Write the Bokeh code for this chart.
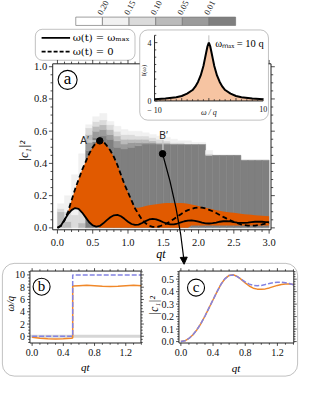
import numpy as np
from bokeh.plotting import figure
from bokeh.models import Range1d, BoxAnnotation, Arrow, NormalHead
from bokeh.core.properties import value
from bokeh.embed import file_html
from bokeh.resources import INLINE

# ====================== DATA ======================
# panel (a): |c1|^2 versus qt
t_grid = [round(0.05 * i, 2) for i in range(61)]
c1_wmax = [0.000, 0.015, 0.050, 0.085, 0.110, 0.123, 0.118, 0.095, 0.065, 0.035,
           0.015, 0.008, 0.012, 0.028, 0.048, 0.066, 0.078, 0.080, 0.072, 0.056,
           0.038, 0.024, 0.018, 0.020, 0.030, 0.042, 0.052, 0.056, 0.053, 0.045,
           0.035, 0.027, 0.022, 0.022, 0.027, 0.034, 0.041, 0.045, 0.046, 0.043,
           0.038, 0.032, 0.028, 0.027, 0.029, 0.033, 0.038, 0.041, 0.042, 0.040,
           0.036, 0.033, 0.031, 0.031, 0.033, 0.036, 0.038, 0.039, 0.038, 0.036,
           0.035]
c1_w0 = [0.000, 0.012, 0.045, 0.100, 0.170, 0.240, 0.300, 0.360, 0.410, 0.460,
         0.500, 0.530, 0.540, 0.535, 0.510, 0.480, 0.440, 0.390, 0.330, 0.270,
         0.220, 0.170, 0.120, 0.085, 0.050, 0.028, 0.013, 0.006, 0.005, 0.010,
         0.018, 0.028, 0.040, 0.055, 0.070, 0.085, 0.100, 0.110, 0.118, 0.124,
         0.126, 0.125, 0.120, 0.112, 0.103, 0.092, 0.080, 0.068, 0.057, 0.047,
         0.037, 0.029, 0.022, 0.017, 0.014, 0.013, 0.014, 0.017, 0.021, 0.026,
         0.031]
orange_top = [0.000, 0.012, 0.045, 0.100, 0.170, 0.240, 0.300, 0.360, 0.410, 0.460,
              0.500, 0.530, 0.540, 0.535, 0.510, 0.480, 0.440, 0.390, 0.330, 0.270,
              0.220, 0.170, 0.125, 0.125, 0.130, 0.135, 0.140, 0.144, 0.147, 0.150,
              0.152, 0.154, 0.155, 0.155, 0.155, 0.154, 0.152, 0.149, 0.145, 0.140,
              0.135, 0.130, 0.125, 0.120, 0.115, 0.110, 0.106, 0.102, 0.099, 0.096,
              0.093, 0.090, 0.088, 0.085, 0.083, 0.081, 0.079, 0.077, 0.075, 0.073,
              0.072]
orange_bottom = [0.000, 0.015, 0.050, 0.085, 0.110, 0.123, 0.118, 0.095, 0.065, 0.035,
                 0.015, 0.008, 0.0, 0.0, 0.0, 0.0, 0.0, 0.0, 0.0, 0.0,
                 0.0, 0.0, 0.0, 0.0, 0.0, 0.0, 0.0, 0.0, 0.0, 0.0,
                 0.0, 0.0, 0.0, 0.0, 0.0, 0.0, 0.0, 0.0, 0.015, 0.015,
                 0.015, 0.015, 0.015, 0.015, 0.015, 0.015, 0.015, 0.015, 0.015, 0.015,
                 0.015, 0.015, 0.015, 0.015, 0.015, 0.015, 0.015, 0.015, 0.015, 0.015,
                 0.015]

# grey histogram: column left edges and the top of each shade level (cumulative)
heat_left = [round(0.1 * i, 1) for i in range(30)]
heat_L5 = [0, 0, 0, 0, 0.48, 0.56, 0.57, 0.55, 0.50, 0.49, 0.50, 0.51, 0.52, 0.52, 0.52,
           0.52, 0.52, 0.52, 0.52, 0.52, 0.52, 0.45, 0.45, 0.45, 0.45, 0.45, 0.42, 0.42, 0.42, 0.42]
heat_L4 = [0, 0, 0, 0, 0.53, 0.60, 0.61, 0.58, 0.54, 0.52, 0.53, 0.53, 0.53, 0.53, 0.52,
           0.52, 0.52, 0.52, 0.52, 0.52, 0.52, 0.45, 0.45, 0.45, 0.45, 0.45, 0.42, 0.42, 0.42, 0.42]
heat_L3 = [0.10, 0.04, 0, 0.03, 0.58, 0.63, 0.64, 0.61, 0.57, 0.55, 0.55, 0.55, 0.55, 0.54, 0.53,
           0.53, 0.52, 0.52, 0.52, 0.52, 0.52, 0.45, 0.45, 0.45, 0.45, 0.45, 0.42, 0.42, 0.42, 0.42]
heat_L2 = [0.12, 0.10, 0.08, 0.30, 0.62, 0.66, 0.67, 0.64, 0.60, 0.58, 0.58, 0.57, 0.57, 0.56, 0.55,
           0.54, 0.53, 0.53, 0.52, 0.52, 0.52, 0.46, 0.45, 0.45, 0.45, 0.45, 0.42, 0.42, 0.42, 0.42]
heat_L1 = [0.15, 0.20, 0.33, 0.46, 0.64, 0.69, 0.71, 0.66, 0.63, 0.61, 0.60, 0.60, 0.59, 0.58, 0.57,
           0.56, 0.55, 0.54, 0.54, 0.53, 0.53, 0.48, 0.45, 0.45, 0.45, 0.45, 0.42, 0.42, 0.42, 0.42]
level_colors = ["#7f7f7f", "#9b9b9b", "#bbbbbb", "#dbdbdb", "#f1f1f1"]

cb_colors = ["#ffffff", "#f1f1f1", "#dbdbdb", "#bbbbbb", "#9b9b9b", "#7f7f7f"]
cb_labels = ["0.20", "0.15", "0.10", "0.05", "0.01"]

points_t = [0.60, 1.49]
points_c = [0.54, 0.46]
points_lab = ["A\u2032", "B\u2032"]

main_xticks = [0.0, 0.5, 1.0, 1.5, 2.0, 2.5, 3.0]
main_xlabels = ["0.0", "0.5", "1.0", "1.5", "2.0", "2.5", "3.0"]
main_yticks = [0.0, 0.2, 0.4, 0.6, 0.8, 1.0]
main_ylabels = ["0.0", "0.2", "0.4", "0.6", "0.8", "1.0"]

# inset: spectral density
omega = [-10, -8, -6, -5, -4, -3, -2.5, -2, -1.5, -1, -0.75, -0.5, -0.25, 0,
         0.25, 0.5, 0.75, 1, 1.5, 2, 2.5, 3, 4, 5, 6, 8, 10]
I_omega = [0.11, 0.16, 0.25, 0.34, 0.50, 0.75, 0.98, 1.30, 1.75, 2.40, 2.85, 3.30, 3.75, 4.00,
           3.75, 3.30, 2.85, 2.40, 1.75, 1.30, 0.98, 0.75, 0.50, 0.34, 0.25, 0.16, 0.11]

# panel (b): omega/q versus qt
b_t_opt = [0, 0.1, 0.2, 0.3, 0.4, 0.5, 0.52, 0.52, 0.6, 0.7, 0.8, 0.9, 1.0, 1.1, 1.2, 1.3, 1.4]
b_w_opt = [-0.15, -0.3, -0.4, -0.42, -0.4, -0.32, -0.28, 8.2, 8.25, 8.3, 8.25, 8.15, 8.1, 8.15, 8.25, 8.3, 8.25]
b_t_bang = [0, 0.52, 0.52, 1.4]
b_w_bang = [0, 0, 10, 10]
b_xticks = [0.0, 0.4, 0.8, 1.2]
b_xlabels = ["0.0", "0.4", "0.8", "1.2"]
b_yticks = [0, 2, 4, 6, 8, 10]
b_ylabels = ["0", "2", "4", "6", "8", "10"]

# panel (c): |c1|^2 versus qt
c_t = [round(0.05 * i, 2) for i in range(29)]
c_opt = [0.000, 0.006, 0.025, 0.055, 0.095, 0.145, 0.205, 0.270, 0.335, 0.400,
         0.460, 0.505, 0.530, 0.535, 0.522, 0.498, 0.470, 0.445, 0.428, 0.420,
         0.419, 0.422, 0.430, 0.440, 0.450, 0.457, 0.461, 0.461, 0.457]
c_bang = [0.000, 0.006, 0.025, 0.055, 0.095, 0.145, 0.205, 0.270, 0.335, 0.400,
          0.460, 0.505, 0.530, 0.533, 0.520, 0.500, 0.478, 0.460, 0.450, 0.447,
          0.450, 0.457, 0.465, 0.472, 0.476, 0.476, 0.472, 0.465, 0.456]
c_yticks = [0.0, 0.1, 0.2, 0.3, 0.4, 0.5]
c_ylabels = ["0.0", "0.1", "0.2", "0.3", "0.4", "0.5"]

# ====================== STYLE / LAYOUT ======================
ORANGE_FILL = "#e15a00"
ORANGE_LINE = "#f0882a"
BLUE = "#8383e2"
PEACH = "#f6c4a2"
FRAME = "#222222"
SERIF = value("Liberation Serif")
DSERIF = value("DejaVu Serif")
SANS = value("Liberation Sans")

RW, RH = 315, 394          # layout coordinates (reference pixels)
FW, FH = 299, 378          # figure size


def Y(y):
    return RH - y


# pixel boxes (x0, x1, ytop, ybottom) and data ranges of each panel
panels = {
    "main": ((55, 285, 66, 239), (-0.067, 3.027), (-0.012, 1.018)),
    "ins": ((162.3, 276.7, 36.3, 104.7), (-10, 10), (0, 4.5)),
    "b": ((31, 148, 282, 357), (-0.028, 1.395), (-1.09, 10.63)),
    "c": ((188, 309, 282, 357), (-0.024, 1.404), (-0.0115, 0.565)),
    "cb": ((79.3, 247.7, 17.3, 26), (0, 6), (0, 1)),
}
xr_extra, yr_extra, scale = {}, {}, {}
for name, ((px0, px1, pyt, pyb), xr, yr) in panels.items():
    sx = (xr[1] - xr[0]) / (px1 - px0)
    sy = (yr[1] - yr[0]) / (pyb - pyt)
    xr_extra[name] = Range1d(xr[0] - px0 * sx, xr[0] + (RW - px0) * sx)
    yr_extra[name] = Range1d(yr[0] + (pyb - RH) * sy, yr[0] + pyb * sy)
    scale[name] = (sx, sy)

p = figure(width=FW, height=FH, x_range=Range1d(0, RW), y_range=Range1d(0, RH),
           output_backend="svg", toolbar_location=None, title=None,
           x_axis_location=None, y_axis_location=None, min_border=0,
           outline_line_color=None, background_fill_color="white",
           border_fill_color="white")
p.grid.visible = False
p.extra_x_ranges = xr_extra
p.extra_y_ranges = yr_extra


def K(name, level="glyph"):
    return dict(x_range_name=name, y_range_name=name, level=level)


def draw_axes(name, xmaj, xmin, ymaj, ymin, xlabpos, xlabtxt, ylabpos, ylabtxt,
              sides="lbtr", inward=False, level="glyph", fs="10px", xoff=9, yoff=6,
              maj_len=4.0, min_len=2.3):
    _, xr, yr = panels[name]
    sx, sy = scale[name]
    d = -1 if inward else 1
    x0, y0, x1, y1 = [], [], [], []
    for ticks, L in ((xmaj, maj_len), (xmin, min_len)):
        for v in ticks:
            if "b" in sides:
                x0.append(v); x1.append(v); y0.append(yr[0]); y1.append(yr[0] - d * L * sy)
            if "t" in sides:
                x0.append(v); x1.append(v); y0.append(yr[1]); y1.append(yr[1] + d * L * sy)
    for ticks, L in ((ymaj, maj_len), (ymin, min_len)):
        for v in ticks:
            if "l" in sides:
                y0.append(v); y1.append(v); x0.append(xr[0]); x1.append(xr[0] - d * L * sx)
            if "r" in sides:
                y0.append(v); y1.append(v); x0.append(xr[1]); x1.append(xr[1] + d * L * sx)
    p.segment(x0, y0, x1, y1, line_color=FRAME, line_width=0.8, **K(name, level))
    fx, fy = [], []
    if "l" in sides:
        fx.append([xr[0], xr[0]]); fy.append([yr[0], yr[1]])
    if "r" in sides:
        fx.append([xr[1], xr[1]]); fy.append([yr[0], yr[1]])
    if "b" in sides:
        fx.append([xr[0], xr[1]]); fy.append([yr[0], yr[0]])
    if "t" in sides:
        fx.append([xr[0], xr[1]]); fy.append([yr[1], yr[1]])
    p.multi_line(fx, fy, line_color=FRAME, line_width=1.0, **K(name, level))
    p.text(x=xlabpos, y=[yr[0]] * len(xlabpos), text=xlabtxt, text_font=SERIF,
           text_font_size=value(fs), text_align="center", text_baseline="top",
           y_offset=xoff, text_color="#111111", **K(name, level))
    p.text(x=[xr[0]] * len(ylabpos), y=ylabpos, text=ylabtxt, text_font=SERIF,
           text_font_size=value(fs), text_align="right", text_baseline="middle",
           x_offset=-yoff, text_color="#111111", **K(name, level))


def minor(start, stop, step, majors):
    vals = np.round(np.arange(start, stop + 1e-9, step), 4)
    return [float(v) for v in vals if all(abs(v - m) > 1e-6 for m in majors)]


# ---------------- colour bar ----------------
p.quad(left=list(range(6)), right=list(range(1, 7)), bottom=[0] * 6, top=[1] * 6,
       fill_color=cb_colors, line_color="#777777", line_width=0.7, **K("cb"))
p.text(x=[1, 2, 3, 4, 5], y=[1] * 5, text=cb_labels, angle=np.radians(62),
       text_font=SERIF, text_font_size=value("8.5px"), text_align="left",
       text_baseline="middle", x_offset=-3, y_offset=-3, text_color="#222222", **K("cb"))

# ---------------- legend ----------------
p.add_layout(BoxAnnotation(left=36.7, right=141.7, top=Y(30), bottom=Y(62.3),
                           fill_color=None, line_color="#333333", line_width=1,
                           border_radius=7))
p.line([43.3, 73.3], [Y(39), Y(39)], line_color="black", line_width=1.8)
p.line([43.3, 73.3], [Y(53.3), Y(53.3)], line_color="black", line_width=1.8, line_dash="4 2")
p.text(x=[76, 76], y=[Y(39), Y(53.3)], text=["\u03c9(t) = \u03c9\u2098\u2090\u2093", "\u03c9(t) = 0"],
       text_font=DSERIF, text_font_size=value("10px"), text_align="left",
       text_baseline="middle", text_color="black")

# ---------------- main panel (a) ----------------
hl, hr, hb, ht, hc = [], [], [], [], []
for i, t0 in enumerate(heat_left):
    tops = [heat_L5[i], heat_L4[i], heat_L3[i], heat_L2[i], heat_L1[i]]
    base = 0.0
    for lev, top in enumerate(tops):
        if top > base:
            hl.append(t0); hr.append(t0 + 0.1); hb.append(base); ht.append(top)
            hc.append(level_colors[lev])
            base = top
p.quad(left=hl, right=hr, bottom=hb, top=ht, fill_color=hc, line_color=hc,
       line_width=0.5, **K("main"))
p.varea(x=t_grid, y1=orange_bottom, y2=orange_top, fill_color=ORANGE_FILL, **K("main"))
p.line(t_grid, c1_wmax, line_color="black", line_width=1.8, **K("main"))
p.line(t_grid, c1_w0, line_color="black", line_width=1.8, line_dash="5 3", **K("main"))

draw_axes("main", main_xticks, minor(0, 3.0, 0.1, main_xticks),
          main_yticks, minor(0, 1.0, 0.05, main_yticks),
          main_xticks, main_xlabels, main_yticks, main_ylabels,
          sides="lbtr", fs="10.5px", xoff=9, yoff=5.5)

# A', B' markers
p.segment([0.437, 1.495], [0.539, 0.545], [0.55, 1.495], [0.539, 0.478],
          line_color="#c8c8c8", line_width=1.3, **K("main"))
p.scatter(points_t, points_c, marker="circle", size=6.5, fill_color="black",
          line_color="black", **K("main"))
p.text(x=[points_t[0]], y=[points_c[0]], text=[points_lab[0]], text_font=SANS,
       text_font_size=value("10px"), text_align="right", text_baseline="middle",
       x_offset=-11, y_offset=0, text_color="#222222", **K("main"))
p.text(x=[points_t[1]], y=[points_c[1]], text=[points_lab[1]], text_font=SANS,
       text_font_size=value("10px"), text_align="center", text_baseline="bottom",
       x_offset=1, y_offset=-13, text_color="#222222", **K("main"))

# arrow from B' to panel (c)
p.quadratic(x0=[points_t[1]], y0=[points_c[1]], x1=[1.793], y1=[-0.20],
            cx=[1.72], cy=[0.116], line_color="black", line_width=1.2, **K("main"))
p.add_layout(Arrow(end=NormalHead(size=7, fill_color="black", line_color="black"),
                   x_start=1.791, y_start=-0.19, x_end=1.795, y_end=-0.226,
                   line_color="black", line_width=1.2,
                   x_range_name="main", y_range_name="main"))

p.text(x=[25], y=[Y(157)], text=["|c\u2081|\u00b2"], angle=np.pi / 2, text_font=SERIF,
       text_font_size=value("12.5px"), text_font_style="italic", text_align="center",
       text_baseline="middle", text_color="black")
p.text(x=[169], y=[Y(264)], text=["qt"], text_font=SERIF, text_font_size=value("12px"),
       text_font_style="italic", text_align="center", text_baseline="middle",
       text_color="black")

# circled "a"
p.scatter([70.7], [Y(82.7)], marker="circle", size=19, fill_color="white",
          line_color="black", line_width=1.1)
p.text(x=[70.7], y=[Y(82.7)], text=["a"], text_font=SERIF, text_font_size=value("17px"),
       text_align="center", text_baseline="middle", y_offset=-1, text_color="black")

# ---------------- inset ----------------
p.add_layout(BoxAnnotation(left=146.7, right=282.3, top=Y(30.7), bottom=Y(124.7),
                           fill_color="white", fill_alpha=1.0, line_color="#333333",
                           line_width=1, border_radius=8))
p.segment([0], [0], [0], [4.5], line_color="#c0c0c0", line_width=1, **K("ins", "overlay"))
p.varea(x=omega, y1=[0] * len(omega), y2=I_omega, fill_color=PEACH, **K("ins", "overlay"))
p.line(omega, I_omega, line_color="black", line_width=2, **K("ins", "overlay"))
draw_axes("ins", [-10, -5, 0, 5, 10], minor(-10, 10, 1, [-10, -5, 0, 5, 10]),
          [0, 4], minor(0, 4.5, 0.5, [0, 4]), [-10, 10], ["\u2212 10", "10"],
          [0, 4], ["0", "4"], sides="lb", inward=True, level="overlay", fs="8px",
          xoff=5, yoff=3, maj_len=3, min_len=1.8)
p.text(x=[1.2], y=[3.93], text=["\u03c9\u2098\u2090\u2093 = 10 q"], text_font=SERIF,
       text_font_size=value("10.5px"), text_align="left", text_baseline="middle",
       text_color="black", **K("ins", "overlay"))
p.text(x=[0], y=[0], text=["\u03c9 / q"], text_font=SERIF, text_font_size=value("8px"),
       text_font_style="italic", text_align="center", text_baseline="top", y_offset=7,
       text_color="#222222", **K("ins", "overlay"))
p.text(x=[151.5], y=[Y(73)], text=["I(\u03c9)"], angle=np.pi / 2, text_font=SERIF,
       text_font_size=value("7px"), text_align="center", text_baseline="middle",
       text_color="#222222", level="overlay")

# ---------------- lower box ----------------
p.add_layout(BoxAnnotation(left=2, right=313, top=Y(274), bottom=Y(391.5),
                           fill_color=None, line_color="#333333", line_width=1,
                           border_radius=12))

# panel (b)
p.segment([-0.028], [0], [1.395], [0], line_color="#d6d6d6", line_width=3, **K("b"))
p.line(b_t_opt, b_w_opt, line_color=ORANGE_LINE, line_width=1.5, **K("b"))
p.line(b_t_bang, b_w_bang, line_color=BLUE, line_width=1.5, line_dash="5 2", **K("b"))
draw_axes("b", b_xticks, minor(0, 1.4, 0.1, b_xticks), b_yticks,
          minor(-1, 10.5, 0.5, b_yticks), b_xticks, b_xlabels, b_yticks, b_ylabels,
          sides="lbtr", fs="10px", xoff=6, yoff=5, maj_len=3, min_len=1.8)
p.text(x=[11], y=[Y(316)], text=["\u03c9/q"], angle=np.pi / 2, text_font=SERIF,
       text_font_size=value("10.5px"), text_font_style="italic", text_align="center",
       text_baseline="middle", text_color="black")
p.text(x=[89.3], y=[Y(381.7)], text=["qt"], text_font=SERIF, text_font_size=value("11px"),
       text_font_style="italic", text_align="center", text_baseline="middle",
       text_color="black")
p.scatter([43.3], [Y(298.3)], marker="circle", size=17, fill_color="white",
          line_color="black", line_width=1.1)
p.text(x=[43.3], y=[Y(298.3)], text=["b"], text_font=SERIF, text_font_size=value("15px"),
       text_align="center", text_baseline="middle", y_offset=-1, text_color="black")

# panel (c)
p.line(c_t, c_opt, line_color=ORANGE_LINE, line_width=1.5, **K("c"))
p.line(c_t, c_bang, line_color=BLUE, line_width=1.5, line_dash="5 2", **K("c"))
draw_axes("c", b_xticks, minor(0, 1.4, 0.1, b_xticks), c_yticks,
          minor(0, 0.56, 0.02, c_yticks), b_xticks, b_xlabels, c_yticks, c_ylabels,
          sides="lbtr", fs="10px", xoff=6, yoff=5, maj_len=3, min_len=1.8)
p.text(x=[161.7], y=[Y(318)], text=["|c\u2081|\u00b2"], angle=np.pi / 2, text_font=SERIF,
       text_font_size=value("11.5px"), text_font_style="italic", text_align="center",
       text_baseline="middle", text_color="black")
p.text(x=[248], y=[Y(383)], text=["qt"], text_font=SERIF, text_font_size=value("11px"),
       text_font_style="italic", text_align="center", text_baseline="middle",
       text_color="black")
p.scatter([206], [Y(299.3)], marker="circle", size=17, fill_color="white",
          line_color="black", line_width=1.1)
p.text(x=[206], y=[Y(299.3)], text=["c"], text_font=SERIF, text_font_size=value("15px"),
       text_align="center", text_baseline="middle", y_offset=-1, text_color="black")

open("out.html", "w").write(file_html(p, INLINE))
